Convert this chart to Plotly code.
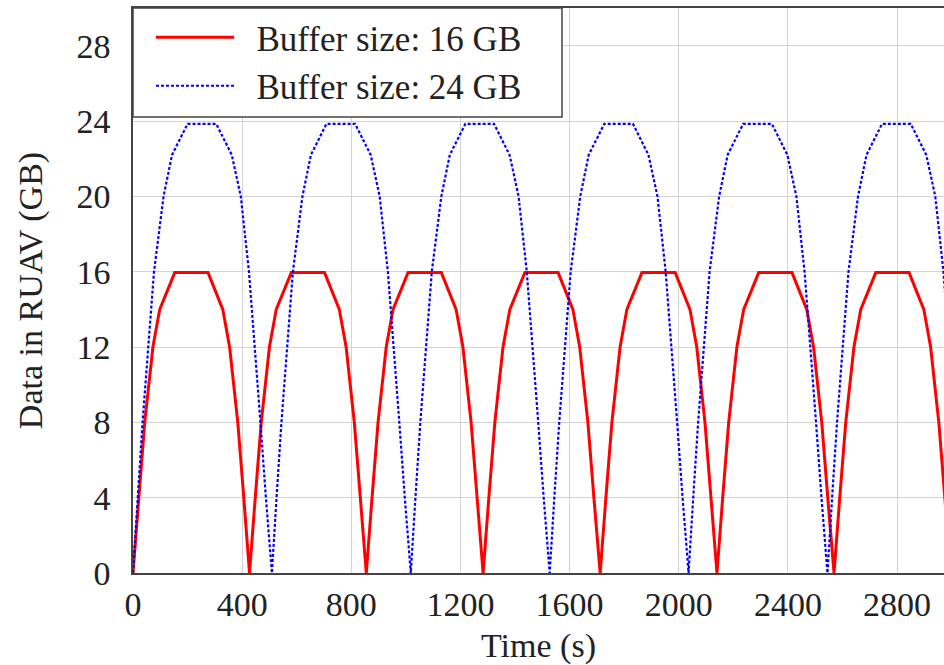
import plotly.graph_objects as go

# ---- data ----
red_time = [0, 21, 43, 58, 73, 98, 153, 275, 329, 354, 369, 384, 406, 427,
            448, 470, 485, 500, 525, 580, 702, 756, 781, 796, 811, 833, 855,
            876, 898, 913, 928, 953, 1008, 1130, 1184, 1209, 1224, 1239, 1261, 1283,
            1304, 1326, 1341, 1356, 1381, 1436, 1558, 1612, 1637, 1652, 1667, 1689, 1712,
            1733, 1755, 1770, 1785, 1810, 1865, 1987, 2041, 2066, 2081, 2096, 2118, 2140,
            2161, 2183, 2198, 2213, 2238, 2293, 2415, 2469, 2494, 2509, 2524, 2546, 2569,
            2590, 2612, 2627, 2642, 2667, 2722, 2844, 2898, 2923, 2938, 2953, 2975, 2997]
red_data = [0, 4, 8, 10, 12, 14, 15.95, 15.95, 14, 12, 10, 8, 4, 0,
            4, 8, 10, 12, 14, 15.95, 15.95, 14, 12, 10, 8, 4, 0,
            4, 8, 10, 12, 14, 15.95, 15.95, 14, 12, 10, 8, 4, 0,
            4, 8, 10, 12, 14, 15.95, 15.95, 14, 12, 10, 8, 4, 0,
            4, 8, 10, 12, 14, 15.95, 15.95, 14, 12, 10, 8, 4, 0,
            4, 8, 10, 12, 14, 15.95, 15.95, 14, 12, 10, 8, 4, 0,
            4, 8, 10, 12, 14, 15.95, 15.95, 14, 12, 10, 8, 4, 0]

blue_time = [0, 17, 35, 56, 77, 112, 143, 200, 305, 362, 395, 425, 447, 467, 487, 509,
             526, 544, 565, 586, 621, 652, 709, 814, 871, 904, 934, 956, 976, 996, 1018,
             1035, 1053, 1074, 1095, 1130, 1161, 1218, 1323, 1380, 1413, 1443, 1465, 1485, 1505, 1527,
             1544, 1562, 1583, 1604, 1639, 1670, 1727, 1832, 1889, 1922, 1952, 1974, 1994, 2014, 2036,
             2053, 2071, 2092, 2113, 2148, 2179, 2236, 2341, 2398, 2431, 2461, 2483, 2503, 2523, 2545,
             2562, 2580, 2601, 2622, 2657, 2688, 2745, 2850, 2907, 2940, 2970, 2992, 3012, 3032, 3054]
blue_data = [0, 4, 8, 12, 16, 20, 22.2, 23.85, 23.85, 22.2, 20, 16, 12, 8, 4, 0,
             4, 8, 12, 16, 20, 22.2, 23.85, 23.85, 22.2, 20, 16, 12, 8, 4, 0,
             4, 8, 12, 16, 20, 22.2, 23.85, 23.85, 22.2, 20, 16, 12, 8, 4, 0,
             4, 8, 12, 16, 20, 22.2, 23.85, 23.85, 22.2, 20, 16, 12, 8, 4, 0,
             4, 8, 12, 16, 20, 22.2, 23.85, 23.85, 22.2, 20, 16, 12, 8, 4, 0,
             4, 8, 12, 16, 20, 22.2, 23.85, 23.85, 22.2, 20, 16, 12, 8, 4, 0]

series_names = ["Buffer size: 16 GB", "Buffer size: 24 GB"]
x_ticks = [0, 400, 800, 1200, 1600, 2000, 2400, 2800]
y_ticks = [0, 4, 8, 12, 16, 20, 24, 28]

FONT = "Liberation Serif"
TXT = "#222222"
NB = "\u00a0\u00a0"

fig = go.Figure()
fig.add_trace(go.Scatter(x=red_time, y=red_data, mode="lines", name=NB + series_names[0],
                         line=dict(color="#ff0000", width=3)))
fig.add_trace(go.Scatter(x=blue_time, y=blue_data, mode="lines", name=NB + series_names[1],
                         line=dict(color="#0000ff", width=2.2, dash="3px,2px")))

fig.update_layout(
    width=944, height=665,
    margin=dict(l=133, r=0, t=8, b=92),
    paper_bgcolor="white", plot_bgcolor="white",
    font=dict(family=FONT, size=34, color=TXT),
    showlegend=True,
    legend=dict(x=0.0222, y=1, xanchor="left", yanchor="top",
                bgcolor="rgba(0,0,0,0)", borderwidth=0,
                font=dict(family=FONT, size=35, color=TXT),
                itemwidth=78, tracegroupgap=0),
    shapes=[dict(type="rect", xref="paper", yref="paper",
                 x0=0, x1=0.529, y0=0.807, y1=1, layer="above",
                 fillcolor="white", line=dict(color="#444444", width=1.5))],
)
fig.update_xaxes(range=[0, 2972], tickvals=x_ticks, ticktext=[str(v) for v in x_ticks],
                 showgrid=True, gridcolor="#d3d3d3", gridwidth=1,
                 showline=True, linecolor="#444444", linewidth=1.6, mirror=True,
                 ticks="", zeroline=False, ticklabelstandoff=0,
                 tickfont=dict(family=FONT, size=34, color=TXT),
                 title=dict(text="Time (s)", font=dict(family=FONT, size=34, color=TXT), standoff=19))
fig.update_yaxes(range=[0, 30], tickvals=y_ticks, ticktext=[str(v) for v in y_ticks],
                 showgrid=True, gridcolor="#d3d3d3", gridwidth=1,
                 showline=True, linecolor="#444444", linewidth=1.6, mirror=False,
                 ticks="", zeroline=False, ticklabelstandoff=14,
                 tickfont=dict(family=FONT, size=34, color=TXT),
                 title=dict(text="Data in RUAV (GB)", font=dict(family=FONT, size=34, color=TXT), standoff=24))

fig.write_html("out.html", config={"displayModeBar": False},
               post_script="document.body.style.margin='0';")
